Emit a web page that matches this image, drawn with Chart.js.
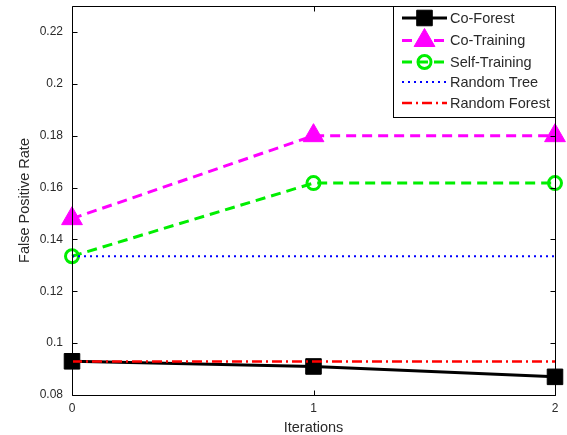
<!DOCTYPE html>
<html>
<head>
<meta charset="utf-8">
<script src="https://cdn.jsdelivr.net/npm/chart.js@4.4.1/dist/chart.umd.min.js"></script>
<style>
html,body{margin:0;padding:0;background:#fff;}
canvas{display:block;}
</style>
</head>
<body>
<canvas id="c" width="567" height="435"></canvas>
<script>
// ---- data ----
const iterations   = ['0', '1', '2'];
const coForest     = [0.093, 0.091, 0.087];
const coTraining   = [0.148, 0.180, 0.180];
const selfTraining = [0.1335, 0.1617, 0.1617];
const randomTree   = [0.1335, 0.1335, 0.1335];
const randomForest = [0.0929, 0.0929, 0.0929];
const seriesNames  = ['Co-Forest', 'Co-Training', 'Self-Training', 'Random Tree', 'Random Forest'];
const yMin = 0.08, yMax = 0.23, yStep = 0.02;
const xTitle = 'Iterations';
const yTitle = 'False Positive Rate';

const FONT = "'Liberation Sans', Arial, Helvetica, sans-serif";
const TXT = '#2a2a2a';

const styles = [
  {color:'#000000', dash:[], width:3, point:'rect', r:11, fill:'#000000', pbw:1},
  {color:'#ff00ff', dash:[10,6], width:3, point:'triangle', r:12, fill:'#ff00ff', pbw:1},
  {color:'#00ee00', dash:[10,6], width:3, point:'circle', r:6.5, fill:'rgba(0,0,0,0)', pbw:3},
  {color:'#0000ff', dash:[2,4], width:2, point:false, r:0},
  {color:'#ff0000', dash:[10,4,2,4], width:2.5, point:false, r:0}
];
const seriesData = [coForest, coTraining, selfTraining, randomTree, randomForest];
const orders = [2, 3, 4, 1, 0];

const datasets = seriesData.map((d, i) => {
  const s = styles[i];
  return {
    label: seriesNames[i],
    data: d,
    borderColor: s.color,
    borderWidth: s.width,
    borderDash: s.dash,
    tension: 0,
    fill: false,
    pointStyle: s.point || 'circle',
    pointRadius: s.r,
    pointHoverRadius: s.r,
    pointBackgroundColor: s.fill || s.color,
    pointBorderColor: s.color,
    pointBorderWidth: s.pbw || 0,
    clip: false,
    order: orders[i]
  };
});

const boxPlugin = {
  id: 'box',
  afterDatasetsDraw(chart) {
    const {ctx, chartArea: a, scales} = chart;
    ctx.save();
    ctx.strokeStyle = '#000';
    ctx.lineWidth = 1;
    ctx.setLineDash([]);
    const L = Math.round(a.left) + 0.5, R = Math.round(a.right) + 0.5;
    const T = Math.round(a.top) + 0.5, B = Math.round(a.bottom) + 0.5;
    ctx.beginPath();
    ctx.rect(L, T, R - L, B - T);
    const tl = 5;
    scales.y.ticks.forEach(t => {
      const y = Math.round(scales.y.getPixelForValue(t.value)) + 0.5;
      ctx.moveTo(L, y); ctx.lineTo(L + tl, y);
      ctx.moveTo(R, y); ctx.lineTo(R - tl, y);
    });
    scales.x.ticks.forEach((t, i) => {
      const x = Math.round(scales.x.getPixelForTick(i)) + 0.5;
      ctx.moveTo(x, B); ctx.lineTo(x, B - tl);
      ctx.moveTo(x, T); ctx.lineTo(x, T + tl);
    });
    ctx.stroke();
    ctx.restore();
  },
  afterDraw(chart) {
    // legend box (matlab style, top-right)
    const {ctx, chartArea: a} = chart;
    ctx.save();
    const bx = 393.5, by = Math.round(a.top) + 0.5, bw = Math.round(a.right) + 0.5 - 393.5, bh = 111;
    ctx.fillStyle = '#fff';
    ctx.fillRect(bx, by, bw, bh);
    ctx.strokeStyle = '#000';
    ctx.lineWidth = 1;
    ctx.setLineDash([]);
    ctx.strokeRect(bx, by, bw, bh);
    const rows = [18, 40.5, 62, 82, 103];
    const x0 = 402, x1 = 447, xm = (x0 + x1) / 2;
    seriesNames.forEach((name, i) => {
      const s = styles[i];
      const y = rows[i];
      ctx.save();
      ctx.strokeStyle = s.color;
      ctx.lineWidth = s.width;
      ctx.setLineDash(s.dash);
      ctx.beginPath();
      ctx.moveTo(x0, y); ctx.lineTo(x1, y);
      ctx.stroke();
      ctx.restore();
      if (s.point) {
        ctx.save();
        ctx.fillStyle = s.fill;
        ctx.strokeStyle = s.color;
        ctx.lineWidth = s.pbw;
        ctx.setLineDash([]);
        ctx.beginPath();
        if (s.point === 'rect') {
          const h = s.r * Math.SQRT1_2;
          ctx.rect(xm - h, y - h, 2 * h, 2 * h);
        } else if (s.point === 'triangle') {
          const r = s.r;
          ctx.moveTo(xm, y - r);
          ctx.lineTo(xm + r * Math.sin(2 * Math.PI / 3), y - r * Math.cos(2 * Math.PI / 3));
          ctx.lineTo(xm + r * Math.sin(4 * Math.PI / 3), y - r * Math.cos(4 * Math.PI / 3));
          ctx.closePath();
        } else {
          ctx.arc(xm, y, s.r, 0, Math.PI * 2);
        }
        ctx.fill();
        ctx.stroke();
        ctx.restore();
      }
      ctx.fillStyle = TXT;
      ctx.font = '14.5px ' + FONT;
      ctx.textAlign = 'left';
      ctx.textBaseline = 'middle';
      ctx.fillText(name, 450, y + 0.5);
    });
    ctx.restore();
  }
};

new Chart(document.getElementById('c'), {
  type: 'line',
  data: { labels: iterations, datasets },
  options: {
    responsive: false,
    animation: false,
    devicePixelRatio: 1,
    layout: { autoPadding: false, padding: { top: 6, right: 12, left: 0, bottom: 0 } },
    plugins: { legend: { display: false }, tooltip: { enabled: false } },
    elements: { line: { borderCapStyle: 'butt' } },
    scales: {
      x: {
        type: 'category',
        offset: false,
        grid: { display: false, drawTicks: false },
        border: { display: false },
        ticks: { color: TXT, font: { family: FONT, size: 12 }, padding: 6, maxRotation: 0, autoSkip: false },
        title: { display: true, text: xTitle, color: TXT, font: { family: FONT, size: 14.5, lineHeight: 1 }, padding: { top: 0, bottom: 0 } },
        afterFit(s) { s.height = 40; s.paddingLeft = 0; s.paddingRight = 0; }
      },
      y: {
        type: 'linear',
        min: yMin,
        max: yMax,
        grid: { display: false, drawTicks: false },
        border: { display: false },
        ticks: {
          stepSize: yStep,
          includeBounds: false,
          autoSkip: false,
          color: TXT,
          font: { family: FONT, size: 12 },
          padding: 9,
          callback: v => String(+v.toFixed(2))
        },
        title: { display: true, text: yTitle, color: TXT, font: { family: FONT, size: 14.5 }, padding: { top: 16, bottom: 0 } },
        afterFit(s) { s.width = 72; s.paddingTop = 0; s.paddingBottom = 0; }
      }
    }
  },
  plugins: [boxPlugin]
});
</script>
</body>
</html>
